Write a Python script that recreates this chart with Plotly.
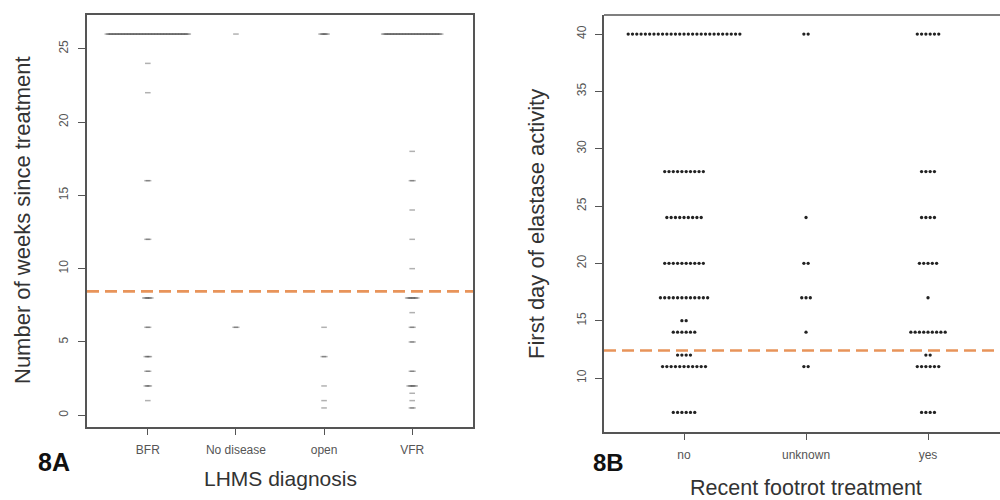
import numpy as np
import plotly.graph_objects as go

# ---------------- Data: panel 8A ----------------
cats_a = ["BFR", "No disease", "open", "VFR"]
bfr_vals = [26, 24, 22, 16, 12, 8, 6, 4, 3, 2, 1]
bfr_counts = [55, 1, 1, 2, 2, 5, 2, 3, 2, 3, 1]
nod_vals = [26, 6]
nod_counts = [1, 2]
open_vals = [26, 6, 4, 2, 1, 0.5]
open_counts = [5, 1, 2, 1, 1, 1]
vfr_vals = [26, 18, 16, 14, 12, 10, 8, 7, 6, 5, 3, 2, 1.5, 1, 0.5]
vfr_counts = [39, 1, 2, 1, 1, 1, 7, 1, 2, 2, 2, 5, 1, 1, 2]
threshold_a = 8.45

# ---------------- Data: panel 8B ----------------
cats_b = ["no", "unknown", "yes"]
no_vals = [40, 28, 24, 20, 17, 15, 14, 12, 11, 7]
no_counts = [27, 10, 9, 10, 12, 2, 6, 4, 11, 6]
unk_vals = [40, 24, 20, 17, 14, 11]
unk_counts = [2, 1, 2, 3, 1, 2]
yes_vals = [40, 28, 24, 20, 17, 14, 12, 11, 7]
yes_counts = [6, 4, 4, 5, 1, 9, 2, 6, 4]
threshold_b = 12.4

ticks_a = [0, 5, 10, 15, 20, 25]
ticks_b = [10, 15, 20, 25, 30, 35, 40]


def stack(pos, vals, counts, step):
    xs, ys = [], []
    for v, c in zip(vals, counts):
        offs = (np.arange(c) - (c - 1) / 2.0) * step
        xs.extend(pos + offs)
        ys.extend([v] * c)
    return xs, ys


FONT = "Arial, Liberation Sans, sans-serif"
fig = go.Figure()

# Panel A points
step_a = 0.017
xa, ya = [], []
for i, (vals, cnts) in enumerate([(bfr_vals, bfr_counts), (nod_vals, nod_counts),
                                  (open_vals, open_counts), (vfr_vals, vfr_counts)]):
    x, y = stack(i + 1, vals, cnts, step_a)
    xa += x
    ya += y
fig.add_trace(go.Scatter(
    x=xa, y=ya, mode="markers", xaxis="x", yaxis="y", showlegend=False,
    marker=dict(symbol="line-ew", size=4,
                line=dict(width=1.5, color="rgba(70,70,70,0.42)"))))

# Panel B points
step_b = 0.0352
xb, yb = [], []
for i, (vals, cnts) in enumerate([(no_vals, no_counts), (unk_vals, unk_counts),
                                  (yes_vals, yes_counts)]):
    x, y = stack(i + 1, vals, cnts, step_b)
    xb += x
    yb += y
fig.add_trace(go.Scatter(
    x=xb, y=yb, mode="markers", xaxis="x2", yaxis="y2", showlegend=False,
    marker=dict(symbol="circle", size=3.3, color="#222", line=dict(width=0))))

# Threshold lines
fig.add_trace(go.Scatter(x=[0.31, 4.69], y=[threshold_a, threshold_a], mode="lines",
                         xaxis="x", yaxis="y", showlegend=False,
                         line=dict(color="#E8945A", width=2.6, dash="12px,6px")))
fig.add_trace(go.Scatter(x=[0.344, 3.59], y=[threshold_b, threshold_b], mode="lines",
                         xaxis="x2", yaxis="y2", showlegend=False,
                         line=dict(color="#E8945A", width=2.6, dash="12px,6px")))

axis_common = dict(showgrid=False, zeroline=False, ticks="outside",
                   tickcolor="#555", linecolor="#555", linewidth=1.5,
                   tickfont=dict(family=FONT, size=12, color="#555"))

fig.update_layout(
    width=1000, height=500,
    margin=dict(l=0, r=0, t=0, b=0),
    paper_bgcolor="white", plot_bgcolor="white",
    xaxis=dict(domain=[0.087, 0.473], range=[0.31, 4.69], tickmode="array",
               tickvals=[1, 2, 3, 4], ticktext=cats_a, ticklen=6, showline=True,
               mirror=True, anchor="y", ticklabelstandoff=5, **axis_common),
    yaxis=dict(domain=[0.146, 0.97], range=[-0.8, 27.3], tickmode="array",
               tickvals=ticks_a, ticklen=7, tickangle=-90, showline=True,
               mirror=True, anchor="x", ticklabelstandoff=5, **axis_common),
    xaxis2=dict(domain=[0.604, 1.0], range=[0.344, 3.59], tickmode="array",
                tickvals=[1, 2, 3], ticktext=cats_b, ticklen=6, showline=True,
                anchor="y2", ticklabelstandoff=5, **axis_common),
    yaxis2=dict(domain=[0.136, 0.97], range=[5.29, 41.66], tickmode="array",
                tickvals=ticks_b, ticklen=7, tickangle=-90, showline=True,
                anchor="x2", ticklabelstandoff=4, **axis_common),
)

# top border of panel B (right border is outside the image)
fig.add_shape(type="line", xref="paper", yref="paper", x0=0.604, x1=1.0,
              y0=0.97, y1=0.97, line=dict(color="#555", width=1.5))

ann = []
ann.append(dict(text="Number of weeks since treatment", x=23 / 1000, y=1 - 220 / 500,
                textangle=-90, font=dict(family=FONT, size=22, color="#333")))
ann.append(dict(text="LHMS diagnosis", x=280 / 1000, y=1 - 478 / 500,
                font=dict(family=FONT, size=21, color="#333")))
ann.append(dict(text="<b>8A</b>", x=54 / 1000, y=1 - 462 / 500,
                font=dict(family=FONT, size=25, color="#111")))
ann.append(dict(text="First day of elastase activity", x=537 / 1000, y=1 - 224 / 500,
                textangle=-90, font=dict(family=FONT, size=22, color="#333")))
ann.append(dict(text="Recent footrot treatment", x=806 / 1000, y=1 - 488 / 500,
                font=dict(family=FONT, size=21.5, color="#333")))
ann.append(dict(text="<b>8B</b>", x=608 / 1000, y=1 - 462 / 500,
                font=dict(family=FONT, size=24, color="#111")))
for a in ann:
    a.update(xref="paper", yref="paper", showarrow=False, xanchor="center",
             yanchor="middle")
fig.update_layout(annotations=ann)

fig.write_html("out.html")
